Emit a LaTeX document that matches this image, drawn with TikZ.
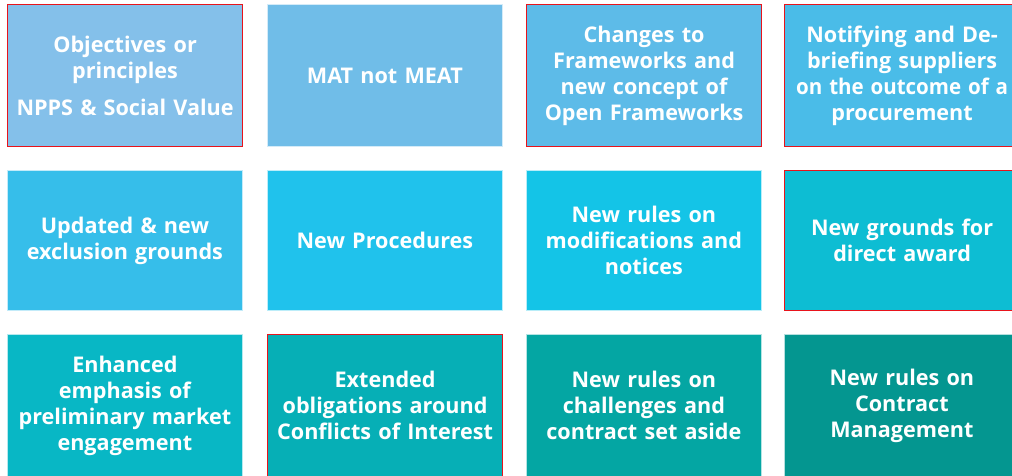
\documentclass[tikz,border=0pt]{standalone}
\usepackage{fontspec}
\usepackage{graphicx}
\setmainfont{Open Sans}
\definecolor{cA}{HTML}{84C0EA}
\definecolor{cB}{HTML}{70BDE8}
\definecolor{cC}{HTML}{5DBBE8}
\definecolor{cD}{HTML}{4ABCE8}
\definecolor{cE}{HTML}{36BEEA}
\definecolor{cF}{HTML}{20C2EC}
\definecolor{cG}{HTML}{14C4E7}
\definecolor{cH}{HTML}{0DBDD3}
\definecolor{cI}{HTML}{08B7C5}
\definecolor{cJ}{HTML}{06AFB6}
\definecolor{cK}{HTML}{04A6A3}
\definecolor{cL}{HTML}{049690}
\definecolor{redline}{HTML}{E8131B}
\tikzset{
  cell/.style={anchor=north west, inner sep=0pt, minimum width=235pt,
    minimum height=142pt, text width=233pt, align=center, text=white,
    font=\fontsize{21.6}{26}\selectfont\bfseries, draw=white!70!#1, fill=#1,
    line width=0.8pt},
  redb/.style={draw=redline, line width=1.2pt}
}
\begin{document}
\begin{tikzpicture}[x=1pt,y=-1pt]
\useasboundingbox[fill=white] (0,0) rectangle (1012,475);
% row 1
\node[cell=cA, redb] (a1) at (7,4) {Objectives or\\ principles\\[11pt] NPPS \& Social Value};
\node[cell=cB] (a2) at (267,4) {MAT not MEAT};
\node[cell=cC, redb] (a3) at (526,4) {Changes to\\ Frameworks and\\ new concept of\\ Open Frameworks};
\node[cell=cD, redb] (a4) at (784,4) {Notifying and De-\\ briefing suppliers\\ \scalebox{0.95}[1]{on the outcome of a}\\ procurement};
% row 2
\node[cell=cE, minimum height=140pt] (b1) at (7,170) {Updated \& new\\ exclusion grounds};
\node[cell=cF, minimum height=140pt] (b2) at (267,170) {New Procedures};
\node[cell=cG, minimum height=140pt] (b3) at (526,170) {New rules on\\ modifications and\\ notices};
\node[cell=cH, redb, minimum height=140pt] (b4) at (784,170) {New grounds for\\ direct award};
% row 3
\node[cell=cI] (c1) at (7,334) {Enhanced\\ emphasis of\\ preliminary market\\ engagement};
\node[cell=cJ, redb] (c2) at (267,334) {Extended\\ obligations around\\ Conflicts of Interest};
\node[cell=cK] (c3) at (526,334) {New rules on\\ challenges and\\ contract set aside};
\node[cell=cL] (c4) at (784,334) {New rules on\\ Contract\\ Management};
\end{tikzpicture}
\end{document}
